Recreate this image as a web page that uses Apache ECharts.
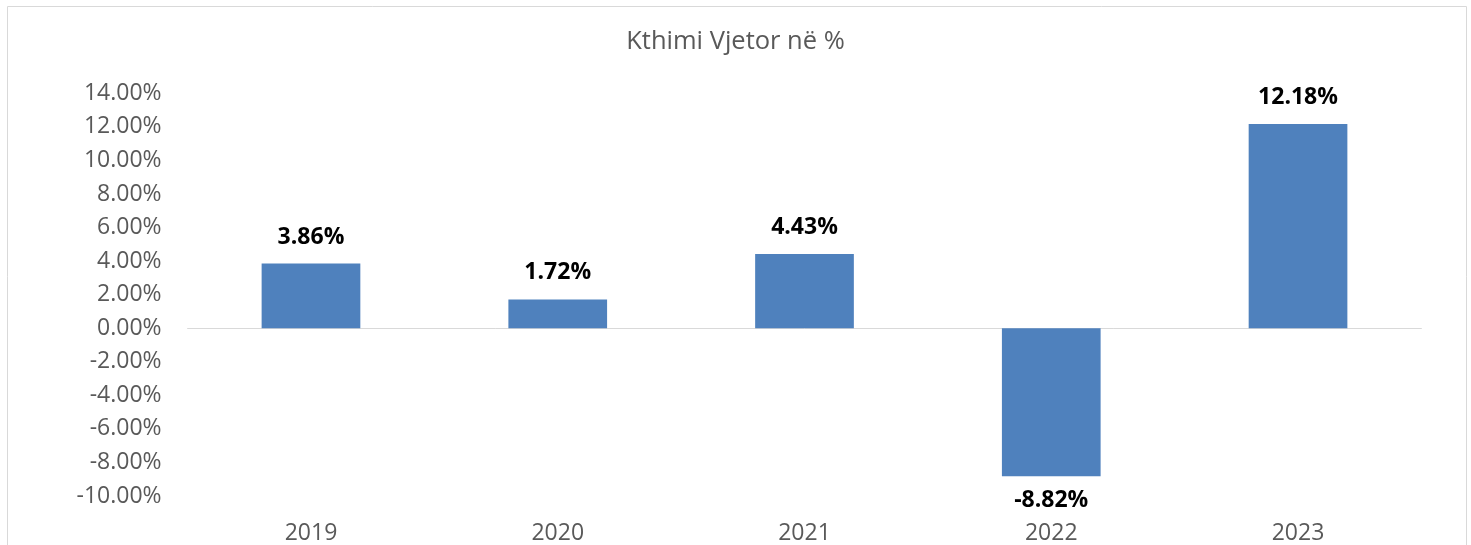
<!DOCTYPE html>
<html lang="sq">
<head>
    <meta charset="UTF-8">
    <title>Kthimi Vjetor në %</title>
    <script src="https://cdn.jsdelivr.net/npm/echarts@6/dist/echarts.min.js"></script>
    <style>
        html,body{margin:0;padding:0;background:#fff}
        #chart{width:1471px;height:545px}
    </style>
</head>
<body>
<div id="chart"></div>
<script>
// te dhenat
var years = ['2019', '2020', '2021', '2022', '2023'];
var returns = [3.86, 1.72, 4.43, -8.82, 12.18];
var yMin = -10;
var yMax = 14;
var yStep = 2;

var fontName = '"Open Sans", Lato, sans-serif';
var grey = '#595959';

var myChart = echarts.init(document.getElementById('chart'));

var barData = [];
for (var i = 0; i < returns.length; i++) {
    var v = returns[i];
    barData.push({
        value: v,
        label: {position: v < 0 ? 'bottom' : 'top', distance: v < 0 ? 13 : 15}
    });
}

var option = {
    animation: false,
    title: {
        text: 'Kthimi Vjetor në %',
        left: 'center',
        top: 24,
        textStyle: {fontFamily: fontName, fontSize: 25.5, fontWeight: 'normal', color: grey}
    },
    grid: {left: 187.6, right: 49.6, top: 93.4, bottom: 47.7},
    graphic: [{
        type: 'rect',
        shape: {x: 7.5, y: 6.5, width: 1459, height: 600},
        style: {fill: 'none', stroke: '#d9d9d9', lineWidth: 1}
    }],
    xAxis: [{
        type: 'category',
        data: years,
        axisLine: {onZero: true, lineStyle: {color: '#d9d9d9', width: 1}},
        axisTick: {show: false},
        axisLabel: {show: false}
    }, {
        type: 'category',
        data: years,
        position: 'bottom',
        axisLine: {show: false, onZero: false},
        axisTick: {show: false},
        axisLabel: {margin: 26, fontFamily: fontName, fontSize: 23, color: grey}
    }],
    yAxis: {
        type: 'value',
        min: yMin,
        max: yMax,
        interval: yStep,
        axisLine: {show: false},
        axisTick: {show: false},
        splitLine: {show: false},
        axisLabel: {
            margin: 26,
            fontFamily: fontName,
            fontSize: 23,
            color: grey,
            formatter: function (v) { return v.toFixed(2) + '%'; }
        }
    },
    series: [{
        type: 'bar',
        xAxisIndex: 0,
        data: barData,
        barWidth: '40%',
        itemStyle: {color: '#4f81bd'},
        label: {
            show: true,
            fontFamily: fontName,
            fontSize: 23,
            fontWeight: 'bold',
            color: '#000',
            formatter: function (p) { return p.value.toFixed(2) + '%'; }
        }
    }]
};
myChart.setOption(option);
</script>
</body>
</html>
